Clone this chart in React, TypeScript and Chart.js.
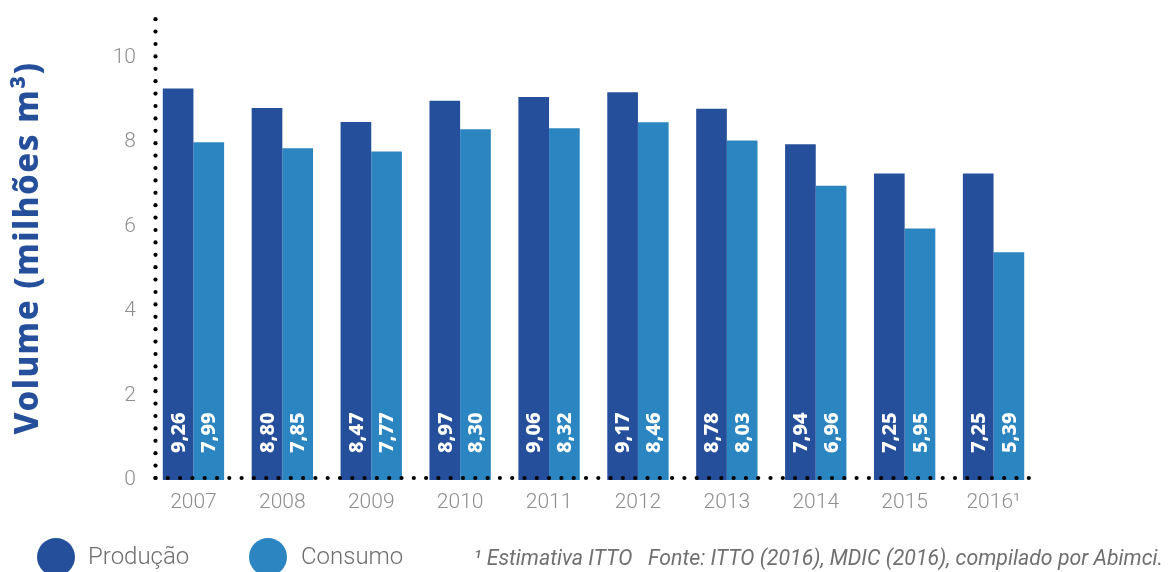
import React, { useEffect, useRef } from "react";
import { Chart, registerables } from "chart.js";

Chart.register(...registerables);

const years = ["2007", "2008", "2009", "2010", "2011", "2012", "2013", "2014", "2015", "2016¹"];
const producao = [9.26, 8.8, 8.47, 8.97, 9.06, 9.17, 8.78, 7.94, 7.25, 7.25];
const consumo = [7.99, 7.85, 7.77, 8.3, 8.32, 8.46, 8.03, 6.96, 5.95, 5.39];
const yTickValues = [0, 2, 4, 6, 8, 10];
const seriesNames = ["Produção", "Consumo"];
const yTitle = "Volume (milhões m³)";
const footnote = "¹ Estimativa ITTO   Fonte: ITTO (2016), MDIC (2016), compilado por Abimci.";

const DARK = "#264f9b";
const LIGHT = "#2a85c0";

const fmt = (v: number) => v.toFixed(2).replace(".", ",");

const decorPlugin = {
  id: "decor",
  afterDraw(chart: any) {
    const ctx = chart.ctx as CanvasRenderingContext2D;
    const area = chart.chartArea;
    const yScale = chart.scales.y;
    const y0 = yScale.getPixelForValue(0);
    ctx.save();

    // dotted axes
    ctx.fillStyle = "#000";
    const vx = area.left + 6.5;
    const hy = y0 - 2;
    for (let y = hy; y >= 16; y -= 12.4) {
      ctx.beginPath();
      ctx.arc(vx, y, 2.1, 0, Math.PI * 2);
      ctx.fill();
    }
    for (let x = vx; x <= area.right + 1; x += 12.3) {
      ctx.beginPath();
      ctx.arc(x, hy, 2.1, 0, Math.PI * 2);
      ctx.fill();
    }

    // value labels inside bars
    ctx.fillStyle = "#ffffff";
    ctx.font = "800 20px 'Noto Sans', 'DejaVu Sans', sans-serif";
    ctx.textAlign = "left";
    ctx.textBaseline = "middle";
    [producao, consumo].forEach((arr, di) => {
      const meta = chart.getDatasetMeta(di);
      meta.data.forEach((bar: any, i: number) => {
        ctx.save();
        ctx.translate(bar.x + 1, y0 - 27);
        ctx.rotate(-Math.PI / 2);
        ctx.fillText(fmt(arr[i]), 0, 0);
        ctx.restore();
      });
    });

    // y title
    ctx.save();
    ctx.fillStyle = DARK;
    ctx.font = "800 33px 'Noto Sans', 'Open Sans', sans-serif";
    (ctx as any).letterSpacing = "1.5px";
    ctx.textAlign = "center";
    ctx.textBaseline = "middle";
    ctx.translate(29, 248);
    ctx.rotate(-Math.PI / 2);
    ctx.fillText(yTitle, 0, 0);
    ctx.restore();

    // legend
    const legendY = 557;
    const items = [
      { cx: 56, tx: 88, color: DARK, label: seriesNames[0] },
      { cx: 268, tx: 301, color: LIGHT, label: seriesNames[1] },
    ];
    ctx.textAlign = "left";
    ctx.textBaseline = "middle";
    items.forEach((it) => {
      ctx.fillStyle = it.color;
      ctx.beginPath();
      ctx.arc(it.cx, legendY, 19, 0, Math.PI * 2);
      ctx.fill();
      ctx.fillStyle = "#6e6e6e";
      ctx.font = "300 24px Roboto, sans-serif";
      ctx.fillText(it.label, it.tx, legendY + 1);
    });

    // footnote
    ctx.fillStyle = "#707070";
    ctx.font = "italic 21.3px Roboto, sans-serif";
    ctx.textAlign = "right";
    ctx.textBaseline = "alphabetic";
    ctx.fillText(footnote, 1163, 565);

    ctx.restore();
  },
};

export default function App() {
  const ref = useRef<HTMLCanvasElement | null>(null);
  useEffect(() => {
    if (!ref.current) return;
    const chart = new Chart(ref.current, {
      type: "bar",
      data: {
        labels: years,
        datasets: [
          { label: seriesNames[0], data: producao, backgroundColor: DARK, categoryPercentage: 0.69, barPercentage: 1 },
          { label: seriesNames[1], data: consumo, backgroundColor: LIGHT, categoryPercentage: 0.69, barPercentage: 1 },
        ],
      },
      options: {
        responsive: false,
        animation: false,
        devicePixelRatio: 1,
        layout: { padding: { top: 15, right: 130, left: 0, bottom: 0 } },
        plugins: { legend: { display: false }, tooltip: { enabled: false } },
        scales: {
          x: {
            grid: { display: false, drawTicks: false },
            border: { display: false },
            ticks: {
              color: "#8e8e8e",
              font: { family: "Roboto", size: 21, weight: "300" },
              padding: 10,
              maxRotation: 0,
            },
            afterFit: (s: any) => {
              s.height = 92;
              s.paddingLeft = 0;
              s.paddingRight = 0;
            },
          },
          y: {
            min: 0,
            max: 11,
            grid: { display: false, drawTicks: false },
            border: { display: false },
            afterBuildTicks: (s: any) => {
              s.ticks = yTickValues.map((v) => ({ value: v }));
            },
            ticks: {
              color: "#8e8e8e",
              font: { family: "Roboto", size: 21, weight: "300" },
              padding: 13,
            },
            afterFit: (s: any) => {
              s.width = 149;
              s.paddingTop = 0;
              s.paddingBottom = 0;
            },
          },
        },
      } as any,
      plugins: [decorPlugin],
    });
    return () => chart.destroy();
  }, []);
  return (
    <div style={{ position: "fixed", left: 0, top: 0, width: 1168, height: 572, background: "#fff" }}>
      <canvas ref={ref} width={1168} height={572} />
    </div>
  );
}
